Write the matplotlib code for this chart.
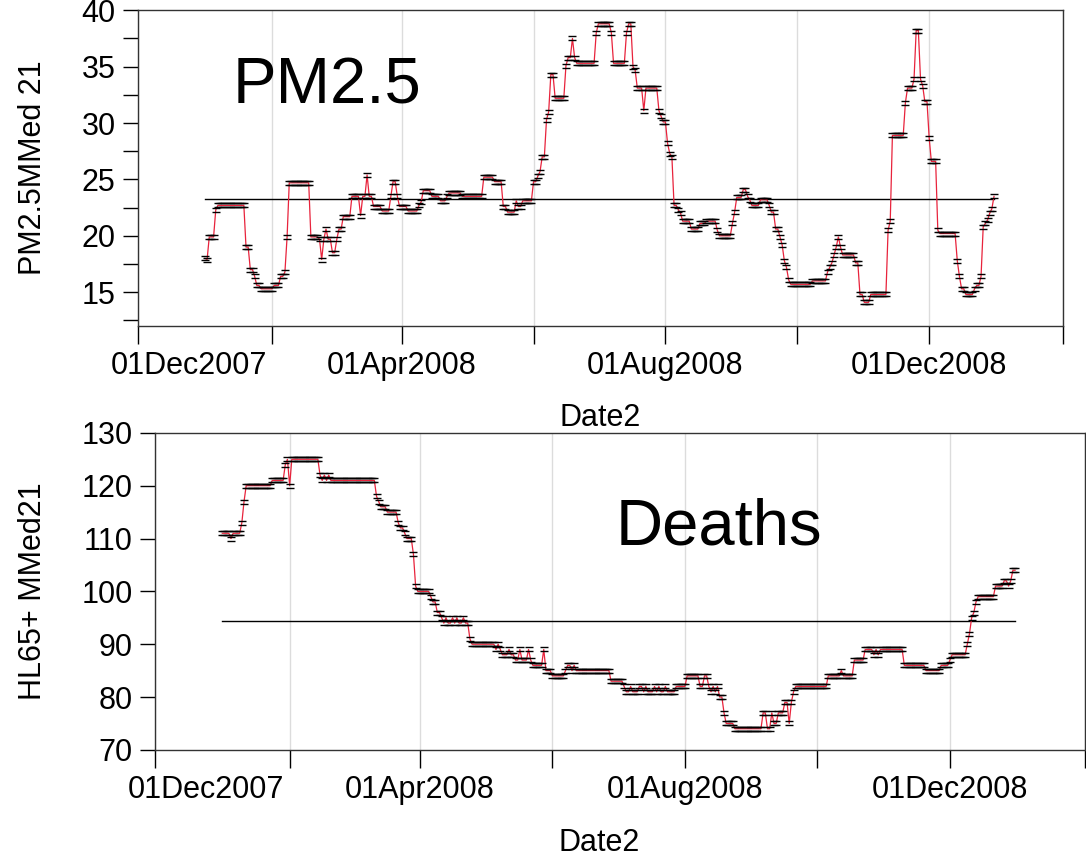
import numpy as np
import matplotlib
matplotlib.use("Agg")
import matplotlib.pyplot as plt
import matplotlib.dates as mdates
from matplotlib.path import Path
from datetime import datetime

plt.rcParams["font.family"] = ["Liberation Sans", "DejaVu Sans"]

# 21-day moving medians, one value per day of 2008, stored as (level, number of days) runs
pm_levels = [18.0, 17.9, 19.9, 22.3, 22.7, 19.0, 17.0, 16.4, 15.6, 15.3, 15.6, 16.4, 16.8, 19.9,
             24.7, 19.9, 19.7, 17.9, 19.7, 20.6, 19.7, 18.5, 19.7, 20.6, 21.7, 23.5, 21.8, 23.5,
             25.4, 23.5, 22.6, 22.2, 23.5, 24.8, 23.5, 22.6, 22.2, 22.7, 23.0, 24.0, 23.5, 23.1,
             23.5, 23.8, 23.5, 25.2, 24.8, 22.6, 22.1, 23.1, 22.6, 23.1, 24.8, 25.3, 25.7, 27.0,
             30.3, 31.0, 34.3, 32.2, 35.1, 35.8, 37.5, 35.8, 35.3, 38.0, 38.8, 38.0, 35.3, 38.0,
             38.8, 35.0, 34.7, 33.1, 31.1, 33.1, 31.1, 30.6, 30.1, 28.2, 27.3, 27.0, 22.7, 22.3,
             22.0, 21.3, 20.6, 21.1, 21.3, 20.5, 20.0, 21.1, 22.1, 23.4, 24.1, 23.5, 23.2, 22.7,
             23.2, 22.7, 22.1, 20.6, 19.9, 19.2, 17.8, 17.2, 16.1, 15.7, 16.0, 16.8, 17.2, 17.6,
             18.3, 19.0, 19.9, 19.0, 18.3, 17.6, 14.8, 14.1, 14.8, 20.5, 21.3, 28.9, 31.8, 33.1,
             33.9, 38.2, 33.9, 33.3, 31.9, 28.7, 26.6, 20.5, 20.2, 17.8, 16.4, 15.3, 14.8, 15.3,
             15.6, 16.4, 20.8, 21.1, 21.4, 22.0, 22.4, 23.5]
pm_runs = [1, 1, 3, 1, 13, 2, 2, 1, 2, 6, 3, 2, 1, 1,
           10, 4, 1, 1, 1, 1, 2, 2, 1, 2, 4, 4, 1, 2,
           1, 2, 4, 4, 1, 2, 1, 4, 5, 1, 1, 4, 4, 3,
           1, 6, 10, 5, 4, 2, 4, 1, 2, 5, 2, 1, 1, 2,
           1, 1, 2, 5, 1, 2, 1, 1, 9, 1, 6, 1, 6, 1,
           2, 1, 1, 3, 1, 6, 1, 1, 2, 1, 1, 1, 2, 1,
           1, 4, 4, 3, 5, 1, 6, 1, 1, 3, 2, 1, 1, 4,
           4, 1, 2, 2, 1, 1, 1, 1, 1, 10, 7, 1, 1, 1,
           1, 1, 1, 1, 6, 2, 2, 3, 8, 1, 1, 6, 1, 3,
           1, 2, 1, 1, 2, 1, 3, 1, 8, 1, 1, 2, 4, 1,
           2, 1, 1, 1, 1, 1, 1, 1]
pm_mean = 23.3

death_levels = [111, 110, 111, 113, 117, 120, 121, 124, 125, 120, 125, 122, 121, 122, 121, 122,
                121, 118, 117, 116, 115, 113, 112, 111, 110, 107, 101, 100, 99, 98, 96, 95,
                94, 95, 94, 95, 94, 95, 94, 95, 94, 91, 90, 89, 90, 89, 88, 89, 88, 87, 89,
                87, 89, 87, 86, 89, 85, 84, 85, 86, 85, 86, 85, 83, 82,
                81, 82, 81, 82, 81, 82, 81, 82, 81, 82, 81, 82, 81, 82,
                82, 84, 82, 84, 82, 81, 82, 81, 82, 80, 77, 75, 74, 77, 74, 77, 75, 77, 79,
                75, 79, 81, 82, 84, 85, 84, 87, 89, 88, 89, 88, 89, 86, 85, 86, 87, 88, 90,
                92, 95, 96, 98, 99, 101, 102, 101, 102, 104]
death_runs = [4, 1, 4, 1, 1, 12, 6, 1, 1, 1, 13, 1, 1, 1, 1, 1,
              21, 1, 1, 3, 5, 1, 2, 1, 3, 1, 1, 6, 1, 2, 2, 1,
              1, 1, 2, 1, 1, 1, 2, 1, 2, 1, 11, 1, 1, 1, 3, 1, 2, 2, 1,
              3, 1, 1, 5, 1, 3, 6, 1, 2, 1, 1, 16, 6, 1,
              2, 1, 3, 2, 1, 1, 3, 1, 1, 1, 2, 1, 4, 1,
              4, 6, 2, 2, 1, 1, 1, 1, 1, 2, 1, 4, 13, 2, 2, 1, 2, 3, 2,
              1, 1, 1, 15, 6, 1, 5, 5, 4, 1, 1, 1, 11, 10, 7, 4, 1, 7, 1,
              1, 1, 1, 1, 8, 4, 2, 1, 1, 2]
death_mean = 94.3

pm = np.repeat(pm_levels, pm_runs)
deaths = np.repeat(death_levels, death_runs)
dates_pm = np.arange(np.datetime64("2008-01-01"), np.datetime64("2008-01-01") + len(pm))
dates_d = np.arange(np.datetime64("2008-01-01"), np.datetime64("2008-01-01") + len(deaths))

# point symbol: two short horizontal bars
bars = Path([(-1, 0.4), (1, 0.4), (-1, -0.4), (1, -0.4)],
            [Path.MOVETO, Path.LINETO, Path.MOVETO, Path.LINETO])

x_start, x_end = datetime(2007, 12, 1), datetime(2009, 2, 1)
ticks = [datetime(2007, 12, 1), datetime(2008, 2, 1), datetime(2008, 4, 1), datetime(2008, 6, 1),
         datetime(2008, 8, 1), datetime(2008, 10, 1), datetime(2008, 12, 1), datetime(2009, 2, 1)]


def date_label(x, pos):
    d = mdates.num2date(x)
    if d.month in (4, 8, 12) and d.year > 2007:
        return d.strftime("%d%b%Y")
    return ""


fig = plt.figure(figsize=(10.86, 8.58), dpi=100)
ax1 = fig.add_axes([0.127, 0.620, 0.852, 0.368])
ax2 = fig.add_axes([0.1427, 0.126, 0.856, 0.3695])

panels = [
    (ax1, dates_pm, pm, pm_mean, (12, 40), np.arange(15, 41, 5), np.arange(12.5, 40, 5),
     "PM2.5MMed 21", "PM2.5", (0.102, 0.706), 0.5, -0.097),
    (ax2, dates_d, deaths, death_mean, (70, 130), np.arange(70, 131, 10), [],
     "HL65+ MMed21", "Deaths", (0.495, 0.647), 0.478, -0.115),
]

for ax, dts, vals, ref, ylim, yt, ymt, ylab, title, tpos, xlx, ylx in panels:
    ax.plot(dts, vals, color="#e8233c", lw=0.9, zorder=3)
    ax.plot(dts, vals, ls="none", marker=bars, ms=6, mec="black", mew=1.0, zorder=4)
    ax.plot([dts[0], dts[-1]], [ref, ref], color="black", lw=1.0, zorder=2)

    ax.set_xlim(x_start, x_end)
    ax.set_ylim(*ylim)
    ax.set_xticks(ticks)
    ax.xaxis.set_major_formatter(plt.FuncFormatter(date_label))
    ax.set_yticks(yt)
    ax.set_yticks(ymt, minor=True)
    ax.grid(axis="x", color="#dcdcdc", lw=1.0, zorder=0)
    ax.tick_params(axis="both", which="both", direction="out", length=11, width=1,
                   labelsize=22, pad=5)
    ax.tick_params(axis="x", length=13)
    for s in ax.spines.values():
        s.set_color("#333333")
        s.set_linewidth(1.0)

    # first date label sits to the right of its tick
    ax.annotate("01Dec2007", xy=(x_start, 0), xycoords=("data", "axes fraction"),
                xytext=(37, -18), textcoords="offset points", ha="center", va="top",
                fontsize=22)

    ax.set_xlabel("Date2", fontsize=22)
    ax.xaxis.set_label_coords(xlx, -0.245)
    ax.set_ylabel(ylab, fontsize=22)
    ax.yaxis.set_label_coords(ylx, 0.5)
    ax.text(tpos[0], tpos[1], title, transform=ax.transAxes, fontsize=47,
            ha="left", va="baseline")

fig.savefig("out.png", dpi=100)
